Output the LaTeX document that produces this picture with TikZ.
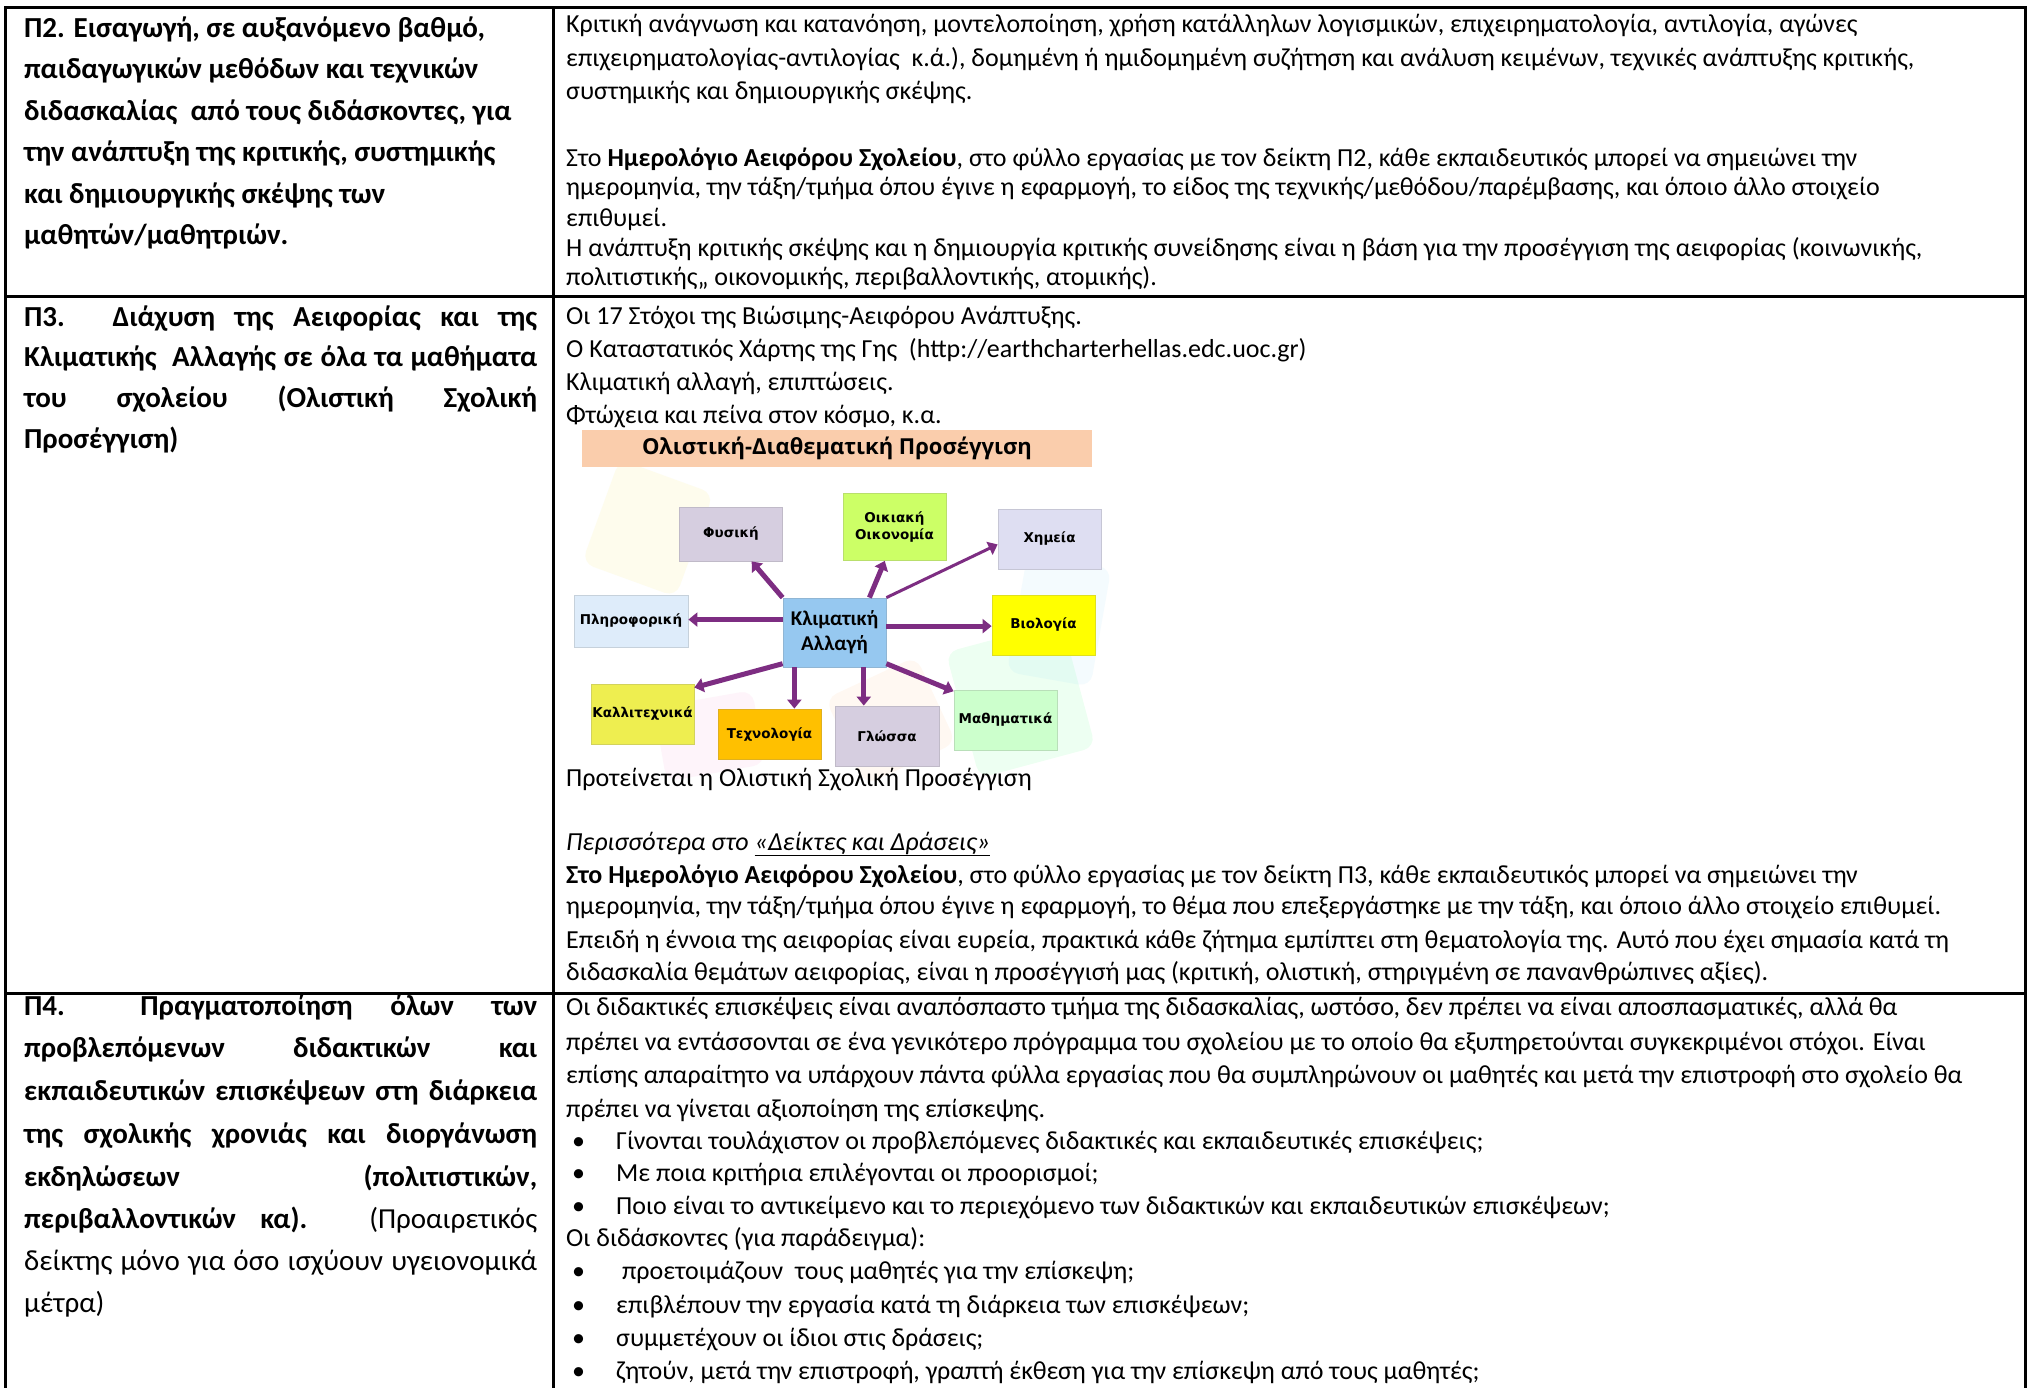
\documentclass[tikz,border=0pt]{standalone}
\usepackage{fontspec}
\setmainfont{Carlito}
\newfontfamily\boxfont{DejaVu Sans}
\newfontfamily\banfont{Open Sans}
\usetikzlibrary{arrows.meta}
\definecolor{arr}{RGB}{125,45,130}
\definecolor{cfys}{RGB}{214,206,224}
\definecolor{coik}{RGB}{204,255,102}
\definecolor{cxim}{RGB}{222,222,242}
\definecolor{cpl}{RGB}{222,236,250}
\definecolor{ccen}{RGB}{150,200,240}
\definecolor{cbio}{RGB}{255,255,0}
\definecolor{ckal}{RGB}{238,238,80}
\definecolor{ctex}{RGB}{255,192,0}
\definecolor{cgl}{RGB}{214,206,224}
\definecolor{cmat}{RGB}{204,255,204}
\definecolor{cban}{RGB}{250,205,172}
\newcommand\jl[1]{\makebox[513pt][s]{#1}}
\tikzset{
  rt/.style={font=\fontsize{26}{31}\selectfont, inner sep=0pt, anchor=base west},
  lt/.style={font=\fontsize{29}{34}\selectfont\bfseries, inner sep=0pt, anchor=base west},
  ln/.style={font=\fontsize{29}{34}\selectfont, inner sep=0pt, anchor=base west},
  tbl/.style={line width=3pt, line cap=rect},
  subj/.style={draw=#1!75!gray, fill=#1, line width=0.8pt, inner sep=0pt, align=center,
     font=\boxfont\bfseries\fontsize{13.5}{16.5}\selectfont},
  con/.style={draw=arr, line width=5pt, -{Triangle[length=9pt,width=14pt]}},
  blob/.style={rounded corners=12pt, opacity=0.07},
}
\begin{document}
\begin{tikzpicture}[x=1pt,y=-1pt]
\useasboundingbox (0,0) rectangle (2034,1388);
\fill[white] (0,0) rectangle (2034,1388);
% table rules
\draw[tbl] (5,8) -- (2025,8);
\draw[tbl] (5,297) -- (2025,297);
\draw[tbl] (5,993) -- (2025,993);
\draw[tbl] (5,8) -- (5,1388);
\draw[tbl] (553,8) -- (553,1388);
\draw[tbl] (2025,8) -- (2025,1388);

% ---- P2 left
\node[lt] (a1) at (24,37.5) {Π2. Εισαγωγή, σε αυξανόμενο βαθμό,};
\node[lt] (a2) at (24,79) {παιδαγωγικών μεθόδων και τεχνικών};
\node[lt] (a3) at (24,120.5) {διδασκαλίας\ \ από τους διδάσκοντες, για};
\node[lt] (a4) at (24,162) {την ανάπτυξη της κριτικής, συστημικής};
\node[lt] (a5) at (24,203.5) {και δημιουργικής σκέψης των};
\node[lt] (a6) at (24,245) {μαθητών/μαθητριών.};
% ---- P2 right
\node[rt] (b1) at (566,32.5) {Κριτική ανάγνωση και κατανόηση, μοντελοποίηση, χρήση κατάλληλων λογισμικών, επιχειρηματολογία, αντιλογία, αγώνες};
\node[rt] (b2) at (566,66.5) {επιχειρηματολογίας-αντιλογίας\ \ κ.ά.), δομημένη ή ημιδομημένη συζήτηση και ανάλυση κειμένων, τεχνικές ανάπτυξης κριτικής,};
\node[rt] (b3) at (566,100) {συστημικής και δημιουργικής σκέψης.};
\node[rt] (b4) at (566,166.5) {Στο \textbf{Ημερολόγιο Αειφόρου Σχολείου}, στο φύλλο εργασίας με τον δείκτη Π2, κάθε εκπαιδευτικός μπορεί να σημειώνει την};
\node[rt] (b5) at (566,195.5) {ημερομηνία, την τάξη/τμήμα όπου έγινε η εφαρμογή, το είδος της τεχνικής/μεθόδου/παρέμβασης, και όποιο άλλο στοιχείο};
\node[rt] (b6) at (566,227) {επιθυμεί.};
\node[rt] (b7) at (566,256.5) {Η ανάπτυξη κριτικής σκέψης και η δημιουργία κριτικής συνείδησης είναι η βάση για την προσέγγιση της αειφορίας (κοινωνικής,};
\node[rt] (b8) at (566,285.5) {πολιτιστικής,, οικονομικής, περιβαλλοντικής, ατομικής).};

% ---- P3 left
\node[lt] (c1) at (24,326) {\jl{Π3. Διάχυση της Αειφορίας και της}};
\node[lt] (c2) at (24,366.5) {\jl{Κλιματικής\ \ Αλλαγής σε όλα τα μαθήματα}};
\node[lt] (c3) at (24,407) {\jl{του σχολείου (Ολιστική Σχολική}};
\node[lt] (c4) at (24,448) {Προσέγγιση)};
% ---- P3 right
\node[rt] (d1) at (566,324) {Οι 17 Στόχοι της Βιώσιμης-Αειφόρου Ανάπτυξης.};
\node[rt] (d2) at (566,357) {Ο Καταστατικός Χάρτης της Γης\ \ (http://earthcharterhellas.edc.uoc.gr)};
\node[rt] (d3) at (566,390) {Κλιματική αλλαγή, επιπτώσεις.};
\node[rt] (d4) at (566,423) {Φτώχεια και πείνα στον κόσμο, κ.α.};

% ---- diagram
\fill[blob, yellow!80!orange, rotate around={-20:(640,520)}] (600,470) rectangle (700,580);
\fill[blob, green!70!cyan, rotate around={15:(1000,700)}] (960,640) rectangle (1080,770);
\fill[blob, magenta!60, rotate around={10:(700,740)}] (660,700) rectangle (760,775);
\fill[blob, cyan!60, rotate around={-10:(1060,600)}] (1020,560) rectangle (1105,680);
\fill[blob, orange!70, rotate around={25:(870,700)}] (830,680) rectangle (930,775);

\node[fill=cban, minimum width=510pt, minimum height=37pt, inner sep=0pt,
      font=\banfont\bfseries\fontsize{22}{26}\selectfont] (ban) at (837,448) {Ολιστική-Διαθεματική Προσέγγιση};
\node[subj=ccen, minimum width=103pt, minimum height=69pt, font=\bfseries\fontsize{21}{25}\selectfont] (cen) at (834.5,632.5) {Κλιματική\\Αλλαγή};
\node[subj=cfys, minimum width=103pt, minimum height=54pt] (fys) at (731,534) {Φυσική};
\node[subj=coik, minimum width=103pt, minimum height=67pt] (oik) at (894.5,527) {Οικιακή\\Οικονομία};
\node[subj=cxim, minimum width=103pt, minimum height=60pt] (xim) at (1049.5,539) {Χημεία};
\node[subj=cpl, minimum width=114pt, minimum height=52pt] (pl) at (631,621) {Πληροφορική};
\node[subj=cbio, minimum width=103pt, minimum height=60pt] (bio) at (1043.5,625) {Βιολογία};
\node[subj=ckal, minimum width=103pt, minimum height=60pt] (kal) at (642.5,714) {Καλλιτεχνικά};
\node[subj=ctex, minimum width=103pt, minimum height=50pt] (tex) at (769.5,734) {Τεχνολογία};
\node[subj=cgl, minimum width=104pt, minimum height=60pt] (gl) at (887,736) {Γλώσσα};
\node[subj=cmat, minimum width=103pt, minimum height=60pt] (mat) at (1005.5,720) {Μαθηματικά};
\draw[con] (cen.north west) -- (fys.307);
\draw[con] (cen.45) -- (oik.254);
\draw[con, line width=3pt] (cen.north east) -- (xim.186);
\draw[con] (cen.166) -- (cen.166 -| pl.east);
\draw[con] (cen.7) -- (cen.7 -| bio.west);
\draw[con] (cen.211) -- (kal.27);
\draw[con] (cen.221) -- (cen.221 |- tex.north);
\draw[con] (cen.310) -- (cen.310 |- gl.north);
\draw[con] (cen.329) -- (mat.151);

\node[rt] (e1) at (566,786) {Προτείνεται η Ολιστική Σχολική Προσέγγιση};
\node[rt] (e2) at (566,850) {\itshape Περισσότερα στο \underline{«Δείκτες και Δράσεις»}};
\node[rt] (e3) at (566,883) {\textbf{Στο Ημερολόγιο Αειφόρου Σχολείου}, στο φύλλο εργασίας με τον δείκτη Π3, κάθε εκπαιδευτικός μπορεί να σημειώνει την};
\node[rt] (e4) at (566,914.5) {ημερομηνία, την τάξη/τμήμα όπου έγινε η εφαρμογή, το θέμα που επεξεργάστηκε με την τάξη, και όποιο άλλο στοιχείο επιθυμεί.};
\node[rt] (e5) at (566,948) {Επειδή η έννοια της αειφορίας είναι ευρεία, πρακτικά κάθε ζήτημα εμπίπτει στη θεματολογία της. Αυτό που έχει σημασία κατά τη};
\node[rt] (e6) at (566,980.5) {διδασκαλία θεμάτων αειφορίας, είναι η προσέγγισή μας (κριτική, ολιστική, στηριγμένη σε πανανθρώπινες αξίες).};

% ---- P4 left
\node[lt] (f1) at (24,1015.5) {\jl{Π4.\ \ Πραγματοποίηση όλων των}};
\node[lt] (f2) at (24,1057) {\jl{προβλεπόμενων διδακτικών και}};
\node[lt] (f3) at (24,1100) {\jl{εκπαιδευτικών επισκέψεων στη διάρκεια}};
\node[lt] (f4) at (24,1143) {\jl{της σχολικής χρονιάς και διοργάνωση}};
\node[lt] (f5) at (24,1186) {\jl{εκδηλώσεων (πολιτιστικών,}};
\node[ln] (f6) at (24,1228) {\jl{\textbf{περιβαλλοντικών κα).} (Προαιρετικός}};
\node[ln] (f7) at (24,1270) {\jl{δείκτης μόνο για όσο ισχύουν υγειονομικά}};
\node[ln] (f8) at (24,1312.5) {μέτρα)};
% ---- P4 right
\node[rt] (g1) at (566,1015) {Οι διδακτικές επισκέψεις είναι αναπόσπαστο τμήμα της διδασκαλίας, ωστόσο, δεν πρέπει να είναι αποσπασματικές, αλλά θα};
\node[rt] (g2) at (566,1050) {πρέπει να εντάσσονται σε ένα γενικότερο πρόγραμμα του σχολείου με το οποίο θα εξυπηρετούνται συγκεκριμένοι στόχοι. Είναι};
\node[rt] (g3) at (566,1083.5) {επίσης απαραίτητο να υπάρχουν πάντα φύλλα εργασίας που θα συμπληρώνουν οι μαθητές και μετά την επιστροφή στο σχολείο θα};
\node[rt] (g4) at (566,1117) {πρέπει να γίνεται αξιοποίηση της επίσκεψης.};
\node[rt] (h1b) at (572,1149.5) {•}; \node[rt] (h1) at (616,1149.5) {Γίνονται τουλάχιστον οι προβλεπόμενες διδακτικές και εκπαιδευτικές επισκέψεις;};
\node[rt] (h2b) at (572,1181.5) {•}; \node[rt] (h2) at (616,1181.5) {Με ποια κριτήρια επιλέγονται οι προορισμοί;};
\node[rt] (h3b) at (572,1214) {•}; \node[rt] (h3) at (616,1214) {Ποιο είναι το αντικείμενο και το περιεχόμενο των διδακτικών και εκπαιδευτικών επισκέψεων;};
\node[rt] (g5) at (566,1246.5) {Οι διδάσκοντες (για παράδειγμα):};
\node[rt] (h4b) at (572,1279.5) {•}; \node[rt] (h4) at (616,1279.5) {\ προετοιμάζουν\ \ τους μαθητές για την επίσκεψη;};
\node[rt] (h5b) at (572,1313) {•}; \node[rt] (h5) at (616,1313) {επιβλέπουν την εργασία κατά τη διάρκεια των επισκέψεων;};
\node[rt] (h6b) at (572,1346) {•}; \node[rt] (h6) at (616,1346) {συμμετέχουν οι ίδιοι στις δράσεις;};
\node[rt] (h7b) at (572,1379.5) {•}; \node[rt] (h7) at (616,1379.5) {ζητούν, μετά την επιστροφή, γραπτή έκθεση για την επίσκεψη από τους μαθητές;};
\end{tikzpicture}
\end{document}
